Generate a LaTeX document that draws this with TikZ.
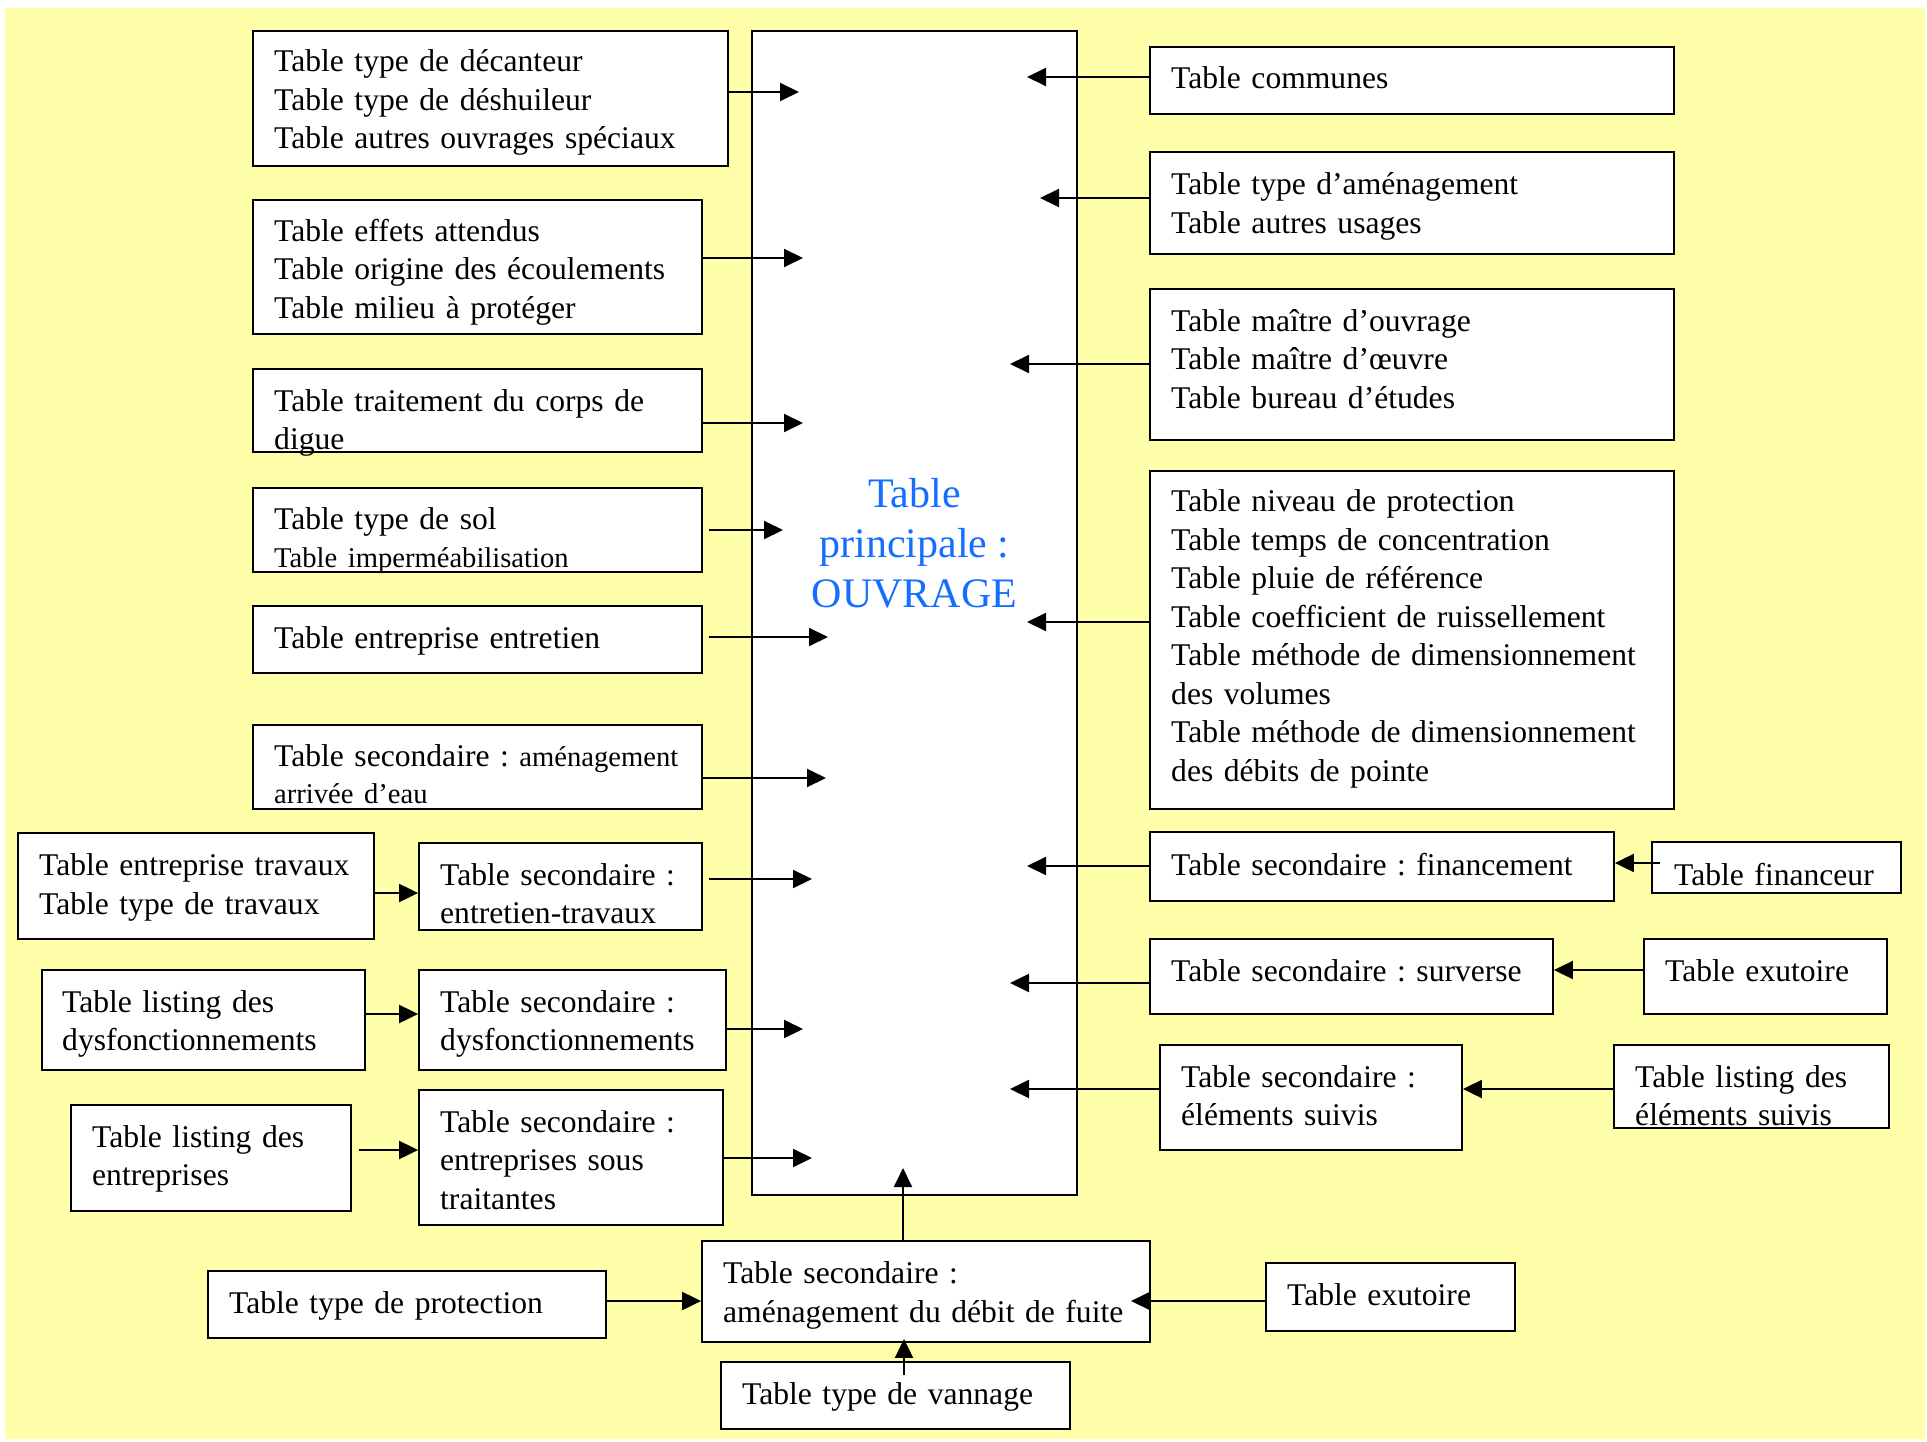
\documentclass[tikz,border=0pt]{standalone}
\usepackage{fontspec}
\setmainfont{Liberation Serif}
\usetikzlibrary{arrows.meta}
\definecolor{bgyel}{RGB}{255,255,170}
\definecolor{tblue}{RGB}{20,110,255}
\newcommand\bxl[1]{\mbox{#1}}
\newcommand\sm[1]{{\fontsize{28.6}{38.5}\selectfont #1}}
\frenchspacing
\begin{document}
\begin{tikzpicture}[x=1pt,y=-1pt,
  bx/.style={draw, line width=1.8pt, fill=white, inner sep=0pt, anchor=center},
  tx/.style={anchor=base west, inner sep=0pt, align=left, font=\fontsize{31.6}{38.5}\selectfont},
  arr/.style={-{Triangle[length=19pt,width=18pt]}, line width=2pt}]
\useasboundingbox (0,0) rectangle (1927,1442);
\fill[bgyel] (5,8) rectangle (1925,1439);

% main table
\node[draw, line width=1.5pt, fill=white, minimum width=325pt, minimum height=1164pt, inner sep=0pt] (main) at (914.5,613) {};
\node[font=\fontsize{42}{50}\selectfont, text=tblue, align=center] (title) at (914.5,543) {Table\\principale :\\OUVRAGE};

% ---------- boxes ----------
\node[bx, minimum width=475pt, minimum height=135pt] (b1) at (490.5,98.5) {};
\node[bx, minimum width=449pt, minimum height=134pt] (b2) at (477.5,267) {};
\node[bx, minimum width=449pt, minimum height=83pt] (b3) at (477.5,410.5) {};
\node[bx, minimum width=449pt, minimum height=84pt] (b4) at (477.5,530) {};
\node[bx, minimum width=449pt, minimum height=67pt] (b5) at (477.5,639.5) {};
\node[bx, minimum width=449pt, minimum height=84pt] (b6) at (477.5,767) {};
\node[bx, minimum width=356pt, minimum height=106pt] (b7) at (196,886) {};
\node[bx, minimum width=283pt, minimum height=87pt] (b8) at (560.5,886.5) {};
\node[bx, minimum width=323pt, minimum height=100pt] (b9) at (203.5,1020) {};
\node[bx, minimum width=307pt, minimum height=100pt] (b10) at (572.5,1020) {};
\node[bx, minimum width=280pt, minimum height=106pt] (b11) at (211,1158) {};
\node[bx, minimum width=304pt, minimum height=135pt] (b12) at (571,1157.5) {};
\node[bx, minimum width=398pt, minimum height=67pt] (b13) at (407,1304.5) {};
\node[bx, minimum width=448pt, minimum height=101pt] (b14) at (926,1291.5) {};
\node[bx, minimum width=349pt, minimum height=67pt] (b15) at (895.5,1395.5) {};
\node[bx, minimum width=249pt, minimum height=68pt] (b16) at (1390.5,1297) {};
\node[bx, minimum width=524pt, minimum height=67pt] (b17) at (1412,80.5) {};
\node[bx, minimum width=524pt, minimum height=102pt] (b18) at (1412,203) {};
\node[bx, minimum width=524pt, minimum height=151pt] (b19) at (1412,364.5) {};
\node[bx, minimum width=524pt, minimum height=338pt] (b20) at (1412,640) {};
\node[bx, minimum width=464pt, minimum height=69pt] (b21) at (1382,866.5) {};
\node[bx, minimum width=249pt, minimum height=51pt] (b22) at (1776.5,867.5) {};
\node[bx, minimum width=403pt, minimum height=75pt] (b23) at (1351.5,976.5) {};
\node[bx, minimum width=243pt, minimum height=75pt] (b24) at (1765.5,976.5) {};
\node[bx, minimum width=302pt, minimum height=105pt] (b25) at (1311,1097.5) {};
\node[bx, minimum width=275pt, minimum height=83pt] (b26) at (1751.5,1086.5) {};

% ---------- texts (first-line baselines) ----------
\node[tx, text width=433pt] (b1t) at (274,71.8)
  {\bxl{Table type de décanteur}\\\bxl{Table type de déshuileur}\\\bxl{Table autres ouvrages spéciaux}};
\node[tx, text width=407pt] (b2t) at (274,241.4)
  {\bxl{Table effets attendus}\\\bxl{Table origine des écoulements}\\\bxl{Table milieu à protéger}};
\node[tx, text width=407pt] (b3t) at (274,411)
  {\bxl{Table traitement du corps de}\\\bxl{digue}};
\node[tx, text width=407pt] (b4t) at (274,529)
  {\bxl{Table type de sol}\\\bxl{\sm{Table imperméabilisation}}};
\node[tx, text width=407pt] (b5t) at (274,648)
  {\bxl{Table entreprise entretien}};
\node[tx, text width=407pt] (b6t) at (274,766)
  {\bxl{Table secondaire : \sm{aménagement}}\\[-1.5pt]\bxl{\sm{arrivée d’eau}}};
\node[tx, text width=314pt] (b7t) at (39,875.5)
  {\bxl{Table entreprise travaux}\\\bxl{Table type de travaux}};
\node[tx, text width=241pt] (b8t) at (440,885.3)
  {\bxl{Table secondaire :}\\\bxl{entretien-travaux}};
\node[tx, text width=281pt] (b9t) at (62,1012)
  {\bxl{Table listing des}\\\bxl{dysfonctionnements}};
\node[tx, text width=265pt] (b10t) at (440,1012)
  {\bxl{Table secondaire :}\\\bxl{dysfonctionnements}};
\node[tx, text width=238pt] (b11t) at (92,1147)
  {\bxl{Table listing des}\\\bxl{entreprises}};
\node[tx, text width=262pt] (b12t) at (440,1132.3)
  {\bxl{Table secondaire :}\\\bxl{entreprises sous}\\\bxl{traitantes}};
\node[tx, text width=356pt] (b13t) at (229,1313)
  {\bxl{Table type de protection}};
\node[tx, text width=406pt] (b14t) at (723,1283.5)
  {\bxl{Table secondaire :}\\\bxl{aménagement du débit de fuite}};
\node[tx, text width=307pt] (b15t) at (742,1404)
  {\bxl{Table type de vannage}};
\node[tx, text width=207pt] (b16t) at (1287,1305.7)
  {\bxl{Table exutoire}};
\node[tx, text width=482pt] (b17t) at (1171,89)
  {\bxl{Table communes}};
\node[tx, text width=482pt] (b18t) at (1171,194.7)
  {\bxl{Table type d’aménagement}\\\bxl{Table autres usages}};
\node[tx, text width=482pt] (b19t) at (1171,331)
  {\bxl{Table maître d’ouvrage}\\\bxl{Table maître d’œuvre}\\\bxl{Table bureau d’études}};
\node[tx, text width=482pt] (b20t) at (1171,511.7)
  {\bxl{Table niveau de protection}\\\bxl{Table temps de concentration}\\\bxl{Table pluie de référence}\\\bxl{Table coefficient de ruissellement}\\\bxl{Table méthode de dimensionnement}\\\bxl{des volumes}\\\bxl{Table méthode de dimensionnement}\\\bxl{des débits de pointe}};
\node[tx, text width=422pt] (b21t) at (1171,875.5)
  {\bxl{Table secondaire : financement}};
\node[tx, text width=207pt] (b22t) at (1674,885.3)
  {\bxl{Table financeur}};
\node[tx, text width=361pt] (b23t) at (1171,981.2)
  {\bxl{Table secondaire : surverse}};
\node[tx, text width=201pt] (b24t) at (1665,981.2)
  {\bxl{Table exutoire}};
\node[tx, text width=260pt] (b25t) at (1181,1087)
  {\bxl{Table secondaire :}\\\bxl{éléments suivis}};
\node[tx, text width=233pt] (b26t) at (1635,1087)
  {\bxl{Table listing des}\\\bxl{éléments suivis}};

% arrow tips inside the main table
\coordinate (t1) at (799,92);
\coordinate (t2) at (803,258);
\coordinate (t3) at (803,423);
\coordinate (t4) at (783,530);
\coordinate (t5) at (828,637);
\coordinate (t6) at (826,778);
\coordinate (t8) at (812,879);
\coordinate (t10) at (803,1029);
\coordinate (t12) at (812,1158);
\coordinate (t14) at (903,1168);
\coordinate (t16) at (1131,1301);
\coordinate (t17) at (1027,77);
\coordinate (t18) at (1040,198);
\coordinate (t19) at (1010,364);
\coordinate (t20) at (1027,622);
\coordinate (t21) at (1027,866);
\coordinate (t23) at (1010,983);
\coordinate (t25) at (1010,1089);

% left connectors
\draw[arr] (b1.east |- t1) -- (t1);
\draw[arr] (b2.east |- t2) -- (t2);
\draw[arr] (b3.east |- t3) -- (t3);
\draw[arr] ([xshift=6pt]b4.east |- t4) -- (t4);
\draw[arr] ([xshift=6pt]b5.east |- t5) -- (t5);
\draw[arr] (b6.east |- t6) -- (t6);
\draw[arr] (b7.east |- 0,893) -- (b8.west |- 0,893);
\draw[arr] ([xshift=6pt]b8.east |- t8) -- (t8);
\draw[arr] (b9.east |- 0,1014) -- (b10.west |- 0,1014);
\draw[arr] (b10.east |- t10) -- (t10);
\draw[arr] ([xshift=7pt]b11.east |- 0,1150) -- (b12.west |- 0,1150);
\draw[arr] (b12.east |- t12) -- (t12);

% bottom connectors
\draw[arr] (b13.east |- 0,1301) -- (b14.west |- 0,1301);
\draw[arr] (b14.north -| t14) -- (t14);
\draw[arr] ([yshift=-14pt]b15.north -| 904,0) -- ([yshift=4pt]b14.south -| 904,0);
\draw[arr] (b16.west |- t16) -- (t16);

% right connectors
\draw[arr] (b17.west |- t17) -- (t17);
\draw[arr] (b18.west |- t18) -- (t18);
\draw[arr] (b19.west |- t19) -- (t19);
\draw[arr] (b20.west |- t20) -- (t20);
\draw[arr] (b21.west |- t21) -- (t21);
\draw[arr] ([xshift=9pt]b22.west |- 0,863) -- (b21.east |- 0,863);
\draw[arr] (b23.west |- t23) -- (t23);
\draw[arr] (b24.west |- 0,970) -- (b23.east |- 0,970);
\draw[arr] (b25.west |- t25) -- (t25);
\draw[arr] (b26.west |- 0,1089) -- (b25.east |- 0,1089);
\end{tikzpicture}
\end{document}
